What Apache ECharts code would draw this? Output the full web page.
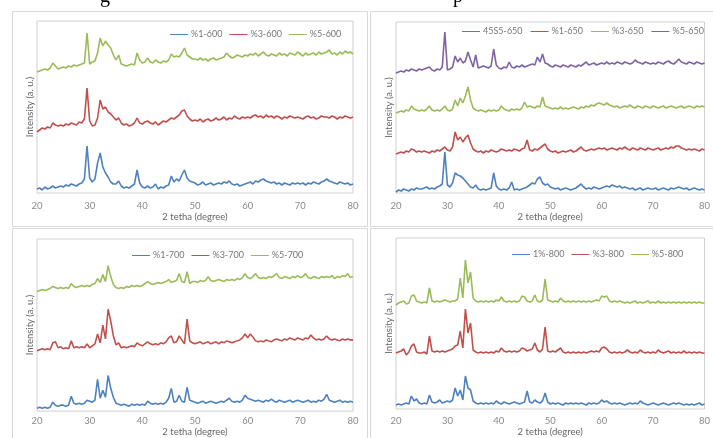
<!DOCTYPE html>
<html><head><meta charset="utf-8">
<script src="https://cdn.jsdelivr.net/npm/echarts@6/dist/echarts.min.js"></script>
<style>html,body{margin:0;padding:0;background:#fff}#c{width:713px;height:438px}</style>
</head><body><div id="c"></div>
<script>
// 2-theta grid (degrees)
const twoTheta = [20,20.5,21,21.5,22,22.5,23,23.5,24,24.5,25,25.5,26,26.5,27,27.5,28,28.5,29,29.5,
30,30.5,31,31.5,32,32.5,33,33.5,34,34.5,35,35.5,36,36.5,37,37.5,38,38.5,39,39.5,
40,40.5,41,41.5,42,42.5,43,43.5,44,44.5,45,45.5,46,46.5,47,47.5,48,48.5,49,49.5,
50,50.5,51,51.5,52,52.5,53,53.5,54,54.5,55,55.5,56,56.5,57,57.5,58,58.5,59,59.5,
60,60.5,61,61.5,62,62.5,63,63.5,64,64.5,65,65.5,66,66.5,67,67.5,68,68.5,69,69.5,
70,70.5,71,71.5,72,72.5,73,73.5,74,74.5,75,75.5,76,76.5,77,77.5,78,78.5,79,79.5,80];
const xTicks = [20,30,40,50,60,70,80];
const xTitle = '2 tetha (degree)';
const yTitle = 'Intensity (a. u.)';

// Panel 1: 600
const names600 = ['%1-600','%3-600','%5-600'];
const p1_600 = [4,5,3,6,4,5,7,5,6,7, 6,8,7,9,8,7,9,10,14,47, 15,11,14,30,40,26,20,16,11,9, 9,12,7,5,6,5,7,9,23,10, 6,5,7,5,6,9,4,6,5,7, 8,17,11,14,12,18,23,15,12,11, 10,8,9,11,8,9,10,8,9,10, 9,11,10,12,9,8,9,7,8,9, 10,11,9,12,11,13,14,12,11,10, 11,9,10,8,10,9,8,10,9,10, 9,10,8,10,9,11,10,9,11,12, 14,12,11,10,9,11,10,9,10,8, 9];
const p3_600 = [61,63,65,64,66,65,70,68,67,68, 67,69,68,70,69,68,71,70,74,105, 72,67,68,75,93,84,86,81,79,76, 73,75,70,68,69,67,68,70,75,70, 69,71,72,70,69,71,68,70,72,71, 73,75,74,76,78,82,83,77,74,72, 73,72,74,71,73,74,72,73,75,73, 74,76,73,75,74,77,75,74,76,75, 76,75,77,78,76,77,75,78,76,77, 75,77,76,74,76,75,77,76,75,76, 75,74,76,77,75,76,74,75,77,76, 76,75,77,76,74,76,75,77,76,75, 76];
const p5_600 = [121,122,123,124,123,125,130,127,124,125, 126,125,127,126,128,127,128,129,130,160, 129,131,132,140,155,147,152,148,145,138, 133,138,129,128,127,128,129,128,140,133, 130,131,135,131,130,133,131,130,132,131, 133,139,136,137,136,140,145,138,136,134, 134,133,135,133,134,132,134,135,133,134, 135,136,140,137,135,136,138,137,136,138, 137,139,138,140,137,139,141,138,137,139, 138,137,140,138,139,137,140,139,138,141, 139,137,140,138,139,140,138,141,139,140, 141,143,139,140,138,141,139,142,140,141, 139];

// Panel 2: 650
const names650 = ['45S5-650','%1-650','%3-650','%5-650'];
const b_650 = [1,3,2,4,3,2,4,3,5,4, 4,5,6,4,5,4,6,7,9,41, 8,6,10,20,18,17,15,12,9,6, 5,8,4,3,4,3,4,5,20,7, 4,3,4,3,5,11,3,4,3,4, 5,6,8,10,9,14,16,10,8,9, 6,5,4,5,3,4,5,4,3,4, 5,7,9,6,4,5,4,6,5,4, 5,6,7,6,8,7,6,7,5,6, 5,4,5,3,4,5,3,4,5,4, 4,5,3,4,5,4,3,5,4,5, 6,5,4,5,3,4,5,4,3,4, 3];
const p1_650 = [39,40,41,40,42,41,44,43,41,42, 41,42,41,40,42,41,43,42,44,46, 43,42,46,61,53,56,51,55,58,50, 44,42,41,42,40,42,41,43,42,41, 42,44,43,42,43,42,44,43,42,44, 45,53,43,42,44,43,45,47,49,44, 42,41,42,40,41,42,41,42,43,41, 42,44,46,43,42,43,44,43,44,45, 44,45,43,44,45,44,43,45,44,46, 44,43,45,44,43,45,44,43,45,44, 43,44,45,43,44,45,44,46,45,47, 47,45,44,43,44,43,44,43,42,44, 43];
const p3_650 = [80,81,82,81,83,82,87,84,83,82, 83,82,84,87,83,82,83,82,84,87, 83,82,84,93,87,95,90,97,106,93, 85,83,82,83,82,81,83,82,83,82, 83,87,84,83,82,84,83,84,83,85, 91,86,87,86,85,87,86,96,87,86, 85,84,85,84,86,84,85,84,85,86, 85,84,86,85,87,86,88,87,89,90, 89,88,90,88,87,86,87,85,86,87, 86,88,86,85,87,86,85,87,86,85, 87,86,85,86,87,85,86,87,86,85, 86,87,85,86,87,86,85,87,86,87, 86];
const p5_650 = [120,121,122,121,123,122,124,123,122,124, 123,124,125,126,123,122,124,123,126,161, 123,124,126,137,131,135,130,132,141,133, 126,138,125,126,127,126,125,127,144,128, 125,124,126,125,131,126,125,127,126,128, 126,127,128,129,128,136,131,139,130,129, 127,126,128,127,126,128,127,126,128,127, 126,128,127,129,131,128,129,130,128,129, 130,129,131,129,130,129,131,130,129,131, 130,129,130,133,131,130,129,131,130,129, 130,129,131,130,129,131,132,130,129,131, 134,131,130,129,131,130,129,131,130,129, 130];

// Panel 3: 700
const names700 = ['%1-700','%3-700','%5-700'];
const p1_700 = [3,4,3,4,3,4,9,6,5,6, 6,5,6,15,8,7,8,7,8,11, 10,9,11,32,13,21,14,36,23,14, 8,7,6,7,6,5,7,6,7,6, 7,6,10,8,7,8,7,8,7,9, 13,23,9,10,16,10,9,24,11,10, 9,8,9,10,8,9,10,9,8,9, 10,9,11,13,10,9,10,9,11,16, 13,12,11,10,11,10,9,11,10,12, 10,9,11,10,9,10,11,9,10,11, 10,9,10,11,9,10,9,11,10,12, 17,11,10,9,10,11,9,10,9,10, 9];
const p3_700 = [61,62,63,62,63,62,69,70,64,65, 63,64,63,71,64,65,64,65,64,68, 64,66,68,78,69,87,73,103,91,76, 67,69,64,65,64,65,66,65,69,67, 66,68,70,68,67,68,67,69,68,70, 74,76,69,70,76,72,68,93,71,69, 68,69,70,68,69,70,68,69,70,68, 70,69,71,70,69,70,71,72,74,78, 74,78,75,71,70,71,70,72,71,70, 72,73,72,71,73,72,74,73,72,74, 73,72,74,73,77,74,72,73,72,73, 76,73,72,73,72,71,73,72,73,72, 72];
const p5_700 = [121,122,123,122,123,124,126,125,124,125, 124,125,124,129,126,125,126,127,126,127, 126,128,129,134,130,138,131,147,136,128, 125,124,125,124,126,125,127,126,127,126, 127,129,131,129,128,129,130,129,130,131, 133,130,131,132,139,131,130,141,129,131, 131,130,132,131,132,136,132,131,132,133, 132,131,133,132,133,132,134,133,135,139, 135,134,136,139,135,134,135,134,136,135, 137,139,135,134,136,135,134,136,135,137, 135,136,139,135,134,136,135,134,136,135, 136,135,137,134,136,135,137,136,139,135, 136];

// Panel 4: 800
const names800 = ['1%-800','%3-800','%5-800'];
const p1_800 = [4,5,4,5,6,5,13,8,10,6, 5,6,5,14,7,6,7,9,6,7, 8,7,9,21,13,19,9,33,21,19, 8,6,5,6,5,6,5,6,5,8, 6,5,7,6,5,6,7,6,5,6, 7,18,7,6,9,7,6,8,16,7, 5,6,5,6,5,4,6,5,6,5, 6,5,6,5,4,6,5,6,5,6, 9,7,8,6,5,6,5,6,5,4, 5,6,5,6,5,8,6,5,4,5, 6,5,4,5,6,5,4,5,6,5, 6,5,4,5,4,5,4,5,6,4, 5];
const p3_800 = [56,57,58,60,54,57,63,65,57,56, 56,57,55,73,58,57,58,57,58,57, 58,59,60,63,64,78,61,100,76,86, 59,57,56,57,56,57,56,57,56,58, 57,61,58,57,58,57,58,57,58,61, 60,58,59,60,66,59,57,60,82,58, 57,58,57,59,61,57,56,57,56,57, 56,57,56,57,56,57,58,57,58,57, 61,62,60,57,56,57,56,57,56,57, 59,57,56,57,56,59,57,56,57,56, 57,56,59,57,56,57,58,56,57,56, 57,56,58,56,57,56,57,56,57,56, 56];
const p5_800 = [104,106,107,108,105,106,113,114,108,107, 106,107,106,121,108,107,108,107,108,109, 108,107,108,108,110,131,111,149,126,137, 111,108,107,108,107,108,107,108,107,109, 108,112,108,107,108,107,108,107,108,113, 112,108,107,108,114,108,107,109,130,109, 108,107,108,107,111,108,107,108,107,108, 107,108,107,108,107,108,107,108,109,108, 113,112,113,108,107,108,107,108,107,106, 107,106,107,108,106,107,106,107,108,106, 107,106,108,106,107,106,107,106,107,106, 107,106,107,106,107,106,107,106,107,106, 106];

const colors = ['#4F81BD','#C0504D','#9BBB59','#8064A2'];
const FONT = 'Lato,"Liberation Sans",sans-serif';

const panels = [
  {grid:{left:37,top:21,width:316,height:172}, ymax:172, names:names600, data:[p1_600,p3_600,p5_600], legend:{left:170,top:30,itemGap:7}, lblMargin:8, nameGap:18, yGap:2},
  {grid:{left:396,top:22,width:316,height:171}, ymax:171, names:names650, data:[b_650,p1_650,p3_650,p5_650], legend:{left:462,top:27,itemGap:8}, lblMargin:8, nameGap:18, yGap:2},
  {grid:{left:37,top:239,width:316,height:174}, ymax:174, names:names700, data:[p1_700,p3_700,p5_700], legend:{left:132,top:251,itemGap:7}, lblMargin:5, nameGap:14, yGap:2},
  {grid:{left:396,top:238,width:316,height:171}, ymax:171, names:names800, data:[p1_800,p3_800,p5_800], legend:{left:512,top:250,itemGap:7}, lblMargin:7, nameGap:18, yGap:2}
];

const option = {animation:false, backgroundColor:'#fff', grid:[], xAxis:[], yAxis:[], legend:[], series:[],
  graphic:[
    {type:'rect', shape:{x:12.5,y:11.5,width:355,height:215}, style:{fill:'none',stroke:'#d9d9d9',lineWidth:1}, z:-1},
    {type:'rect', shape:{x:370.5,y:11.5,width:350,height:215}, style:{fill:'none',stroke:'#d9d9d9',lineWidth:1}, z:-1},
    {type:'rect', shape:{x:12.5,y:228.5,width:355,height:220}, style:{fill:'none',stroke:'#d9d9d9',lineWidth:1}, z:-1},
    {type:'rect', shape:{x:370.5,y:228.5,width:350,height:220}, style:{fill:'none',stroke:'#d9d9d9',lineWidth:1}, z:-1},
    {type:'text', style:{text:'g', x:100, y:-3, verticalAlign:'middle', font:'20px "Liberation Serif",serif', fill:'#000'}},
    {type:'text', style:{text:'p', x:453, y:-3, verticalAlign:'middle', font:'20px "Liberation Serif",serif', fill:'#000'}}
  ]
};

panels.forEach((p, gi) => {
  option.grid.push(Object.assign({show:true, borderColor:'#d0d0d0', borderWidth:1, backgroundColor:'transparent'}, p.grid));
  option.xAxis.push({type:'value', gridIndex:gi, min:xTicks[0], max:xTicks[xTicks.length-1], interval:10,
    axisLine:{show:false}, axisTick:{show:false}, splitLine:{show:false},
    axisLabel:{color:'#8a8a8a', fontSize:9.5, fontFamily:FONT, margin:p.lblMargin, showMinLabel:true, showMaxLabel:true},
    name:xTitle, nameLocation:'middle', nameGap:p.nameGap, nameTextStyle:{color:'#666', fontSize:9.5, fontFamily:FONT}});
  option.yAxis.push({type:'value', gridIndex:gi, min:0, max:p.ymax,
    axisLine:{show:false}, axisTick:{show:false}, splitLine:{show:false}, axisLabel:{show:false},
    name:yTitle, nameLocation:'middle', nameRotate:90, nameGap:p.yGap, nameTextStyle:{color:'#666', fontSize:9.5, fontFamily:FONT}});
  option.legend.push({left:p.legend.left, top:p.legend.top, width:260, itemGap:p.legend.itemGap, itemWidth:18, itemHeight:1, icon:'rect',
    data:p.names, textStyle:{color:'#777', fontSize:9, fontFamily:FONT, padding:[0,0,0,-2]}, padding:0});
  p.data.forEach((arr, si) => {
    option.series.push({type:'line', name:p.names[si], xAxisIndex:gi, yAxisIndex:gi, showSymbol:false, symbol:'none',
      lineStyle:{width:1.6, color:colors[si]}, itemStyle:{color:colors[si]},
      data: twoTheta.map((x,i)=>[x, arr[i]])});
  });
});

const chart = echarts.init(document.getElementById('c'), null, {renderer:'canvas'});
chart.setOption(option);
</script></body></html>
